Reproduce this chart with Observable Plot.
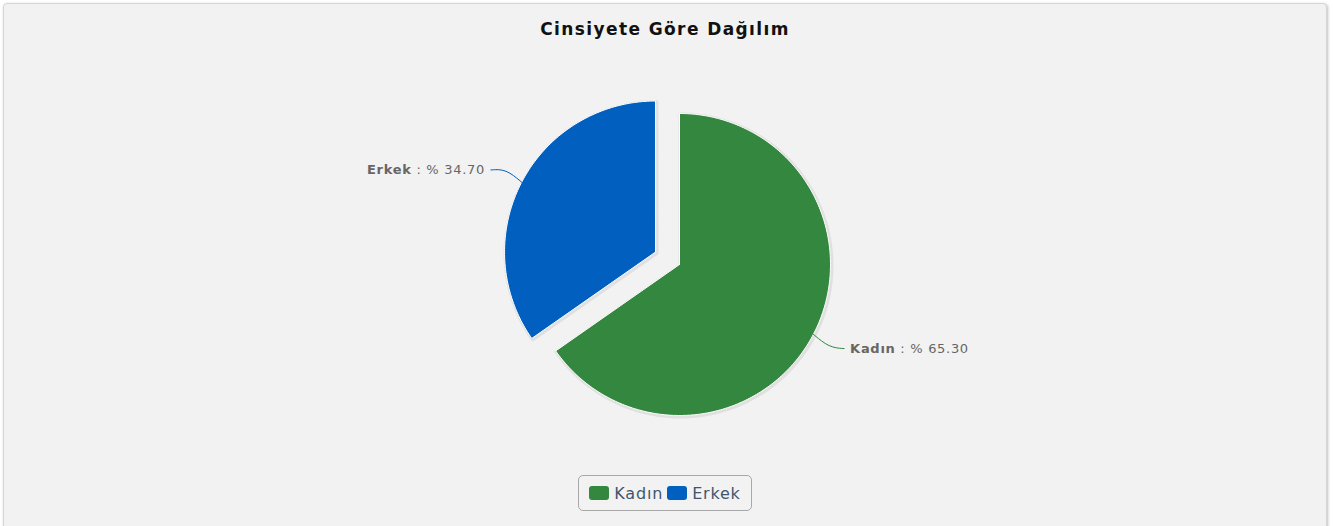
<!DOCTYPE html>
<html><head><meta charset="utf-8">
<script src="https://cdn.jsdelivr.net/npm/d3@7"></script>
<script src="https://cdn.jsdelivr.net/npm/@observablehq/plot@0.6"></script>
<style>
body{margin:0;background:#fff;font-family:"DejaVu Sans",Verdana,sans-serif;}
#panel{position:absolute;left:3px;top:3px;width:1322px;height:540px;background:#f2f2f2;border:1px solid #d6d6d6;border-radius:4px;box-shadow:1px 1px 3px rgba(0,0,0,0.25);overflow:hidden}
#title{height:50px;line-height:50px;text-align:center;font-weight:bold;font-size:17px;color:#111;letter-spacing:1.4px}
#chart svg{display:block}
#legendwrap{text-align:center;margin-top:11px}
#legend{display:inline-flex;align-items:center;height:34px;padding:0 6px 0 10px;border:1px solid #a8a8a8;border-radius:5px;font-size:16px;letter-spacing:0.8px;color:#3e576f}
.item{display:inline-flex;align-items:center;margin-right:4px}
.sw{width:20px;height:14px;border-radius:3px;margin-right:5px}
</style></head>
<body><div id="panel"><div id="title">Cinsiyete Göre Dağılım</div><div id="chart"></div><div id="legendwrap"><div id="legend"></div></div></div>
<script>
const categories = ["Kadın", "Erkek"];
const shares = [65.30, 34.70];
const colors = ["#33873e", "#005fbf"];
const exploded = [false, true];

const W = 1322, H = 410, cx = 675, cy = 210, R = 151, explodeDist = 27;

const rows = categories.map((name, i) => ({name, value: shares[i], exploded: exploded[i]}));
const arcs = d3.pie().sort(null).value(d => d.value).startAngle(0).endAngle(2 * Math.PI)(rows);

const polys = [];
const connectors = [];
const labels = [];
arcs.forEach(a => {
  const name = a.data.name;
  const mid = (a.startAngle + a.endAngle) / 2;
  const ox = a.data.exploded ? explodeDist * Math.sin(mid) : 0;
  const oy = a.data.exploded ? explodeDist * Math.cos(mid) : 0;
  polys.push({name, x: ox, y: oy});
  const steps = Math.ceil((a.endAngle - a.startAngle) / (Math.PI / 180));
  for (let k = 0; k <= steps; k++) {
    const t = a.startAngle + (a.endAngle - a.startAngle) * k / steps;
    polys.push({name, x: ox + R * Math.sin(t), y: oy + R * Math.cos(t)});
  }
  polys.push({name, x: ox, y: oy});
  const dx = Math.sin(mid), dy = Math.cos(mid);
  const side = dx >= 0 ? 1 : -1;
  const px = ox + R * dx, py = oy + R * dy;
  const ex = ox + (R + 20) * dx, ey = oy + (R + 20) * dy + (side > 0 ? -5 : 3);
  connectors.push({name, x: px, y: py}, {name, x: ex - 2 * side, y: ey + 1}, {name, x: ex + 13 * side, y: ey});
  labels.push({name, x: ex + 19 * side, y: ey, anchor: side > 0 ? "start" : "end",
    text: `${name} : % ${a.data.value.toFixed(2)}`});
});

const chart = Plot.plot({
  width: W, height: H, margin: 0,
  x: {domain: [-cx, W - cx], axis: null},
  y: {domain: [-(H - cy), cy], axis: null},
  color: {domain: categories, range: colors},
  style: {background: "transparent", overflow: "visible", fontFamily: "'DejaVu Sans', Verdana, sans-serif"},
  marks: [
    Plot.line(polys, {x: "x", y: "y", z: "name", stroke: "#000", strokeOpacity: 0.07, strokeWidth: 4, dx: 1, dy: 1}),
    Plot.line(polys, {x: "x", y: "y", z: "name", fill: "name", stroke: "#ffffff", strokeWidth: 1}),
    Plot.line(connectors, {x: "x", y: "y", z: "name", stroke: "name", strokeWidth: 1, curve: "basis"}),
    Plot.text(labels.filter(d => d.anchor === "start"), {x: "x", y: "y", text: "text", textAnchor: "start", fill: "#666666", fontSize: 13}),
    Plot.text(labels.filter(d => d.anchor === "end"), {x: "x", y: "y", text: "text", textAnchor: "end", fill: "#666666", fontSize: 13})
  ]
});
document.getElementById("chart").appendChild(chart);

d3.select(chart).selectAll("text").each(function() {
  const s = this.textContent;
  const i = s.indexOf(" : ");
  if (i < 0) return;
  const sel = d3.select(this).style("letter-spacing", "0.7px");
  sel.text(null);
  sel.append("tspan").attr("font-weight", "bold").text(s.slice(0, i));
  sel.append("tspan").text(s.slice(i));
});

const legend = d3.select("#legend");
categories.forEach((c, i) => {
  const it = legend.append("span").attr("class", "item");
  it.append("span").attr("class", "sw").style("background", colors[i]);
  it.append("span").text(c);
});
</script>
</body></html>
